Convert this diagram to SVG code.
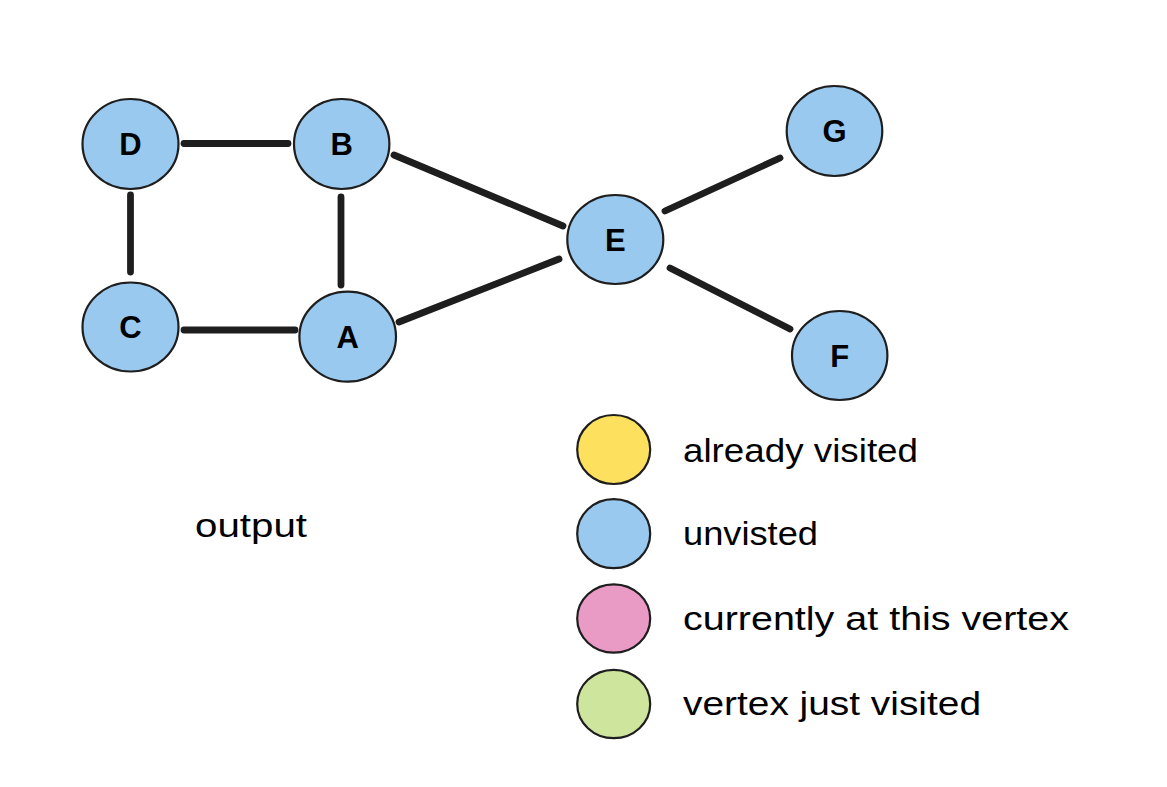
<svg xmlns="http://www.w3.org/2000/svg" width="1167" height="787" viewBox="0 0 1167 787">
<style>
.node ellipse{stroke:#1e1e1e;stroke-width:2.2}
.blue{fill:#99c9ef}
.lbl{font-family:"Liberation Sans",Arial,sans-serif;font-weight:bold;font-size:31px;fill:#000;text-anchor:middle}
.hand{font-family:"Liberation Sans",Arial,sans-serif;font-size:34px;fill:#000}
#edges line{stroke:#1e1e1e;stroke-width:6.8;stroke-linecap:round}
</style>
<rect width="1167" height="787" fill="#ffffff"/>
<g id="edges">
<line x1="184" y1="143.5" x2="288" y2="143.5"/>
<line x1="130.5" y1="195" x2="130.5" y2="272"/>
<line x1="341" y1="197" x2="341" y2="285"/>
<line x1="184" y1="330" x2="295" y2="330"/>
<line x1="394" y1="155" x2="563" y2="226"/>
<line x1="399" y1="322" x2="559" y2="259"/>
<line x1="665" y1="211" x2="780" y2="158"/>
<line x1="670" y1="268" x2="790" y2="329"/>
</g>
<g id="node-D" class="node"><ellipse class="blue" cx="130.5" cy="144" rx="48" ry="45"/><text class="lbl" x="130.5" y="155">D</text></g>
<g id="node-B" class="node"><ellipse class="blue" cx="341.7" cy="144" rx="47.7" ry="45"/><text class="lbl" x="341.7" y="155">B</text></g>
<g id="node-C" class="node"><ellipse class="blue" cx="130.5" cy="327" rx="48" ry="44.5"/><text class="lbl" x="130.5" y="338">C</text></g>
<g id="node-A" class="node"><ellipse class="blue" cx="347.7" cy="336.7" rx="48.3" ry="45"/><text class="lbl" x="347.7" y="347.5">A</text></g>
<g id="node-E" class="node"><ellipse class="blue" cx="615.3" cy="239.5" rx="48" ry="44.5"/><text class="lbl" x="615.3" y="250.5">E</text></g>
<g id="node-G" class="node"><ellipse class="blue" cx="834.5" cy="131" rx="47.8" ry="45"/><text class="lbl" x="834.5" y="142">G</text></g>
<g id="node-F" class="node"><ellipse class="blue" cx="839.7" cy="355.5" rx="47.7" ry="44.5"/><text class="lbl" x="839.7" y="366.5">F</text></g>
<g id="output-label"><text class="hand" x="195" y="537" textLength="112" lengthAdjust="spacingAndGlyphs">output</text></g>
<g id="legend">
<g id="legend-visited" class="node"><ellipse cx="613.7" cy="449.5" rx="36.5" ry="34.5" fill="#fde05e"/><text class="hand" x="683" y="461.5" textLength="235" lengthAdjust="spacingAndGlyphs">already visited</text></g>
<g id="legend-unvisited" class="node"><ellipse class="blue" cx="613.7" cy="533.7" rx="36.5" ry="34.5"/><text class="hand" x="683" y="545" textLength="135" lengthAdjust="spacingAndGlyphs">unvisted</text></g>
<g id="legend-current" class="node"><ellipse cx="613.7" cy="618.5" rx="36.5" ry="34.2" fill="#e99ac5"/><text class="hand" x="683" y="629.5" textLength="386" lengthAdjust="spacingAndGlyphs">currently at this vertex</text></g>
<g id="legend-just" class="node"><ellipse cx="613.7" cy="704" rx="36.5" ry="34.2" fill="#cee59e"/><text class="hand" x="683" y="715" textLength="298" lengthAdjust="spacingAndGlyphs">vertex just visited</text></g>
</g>
</svg>
